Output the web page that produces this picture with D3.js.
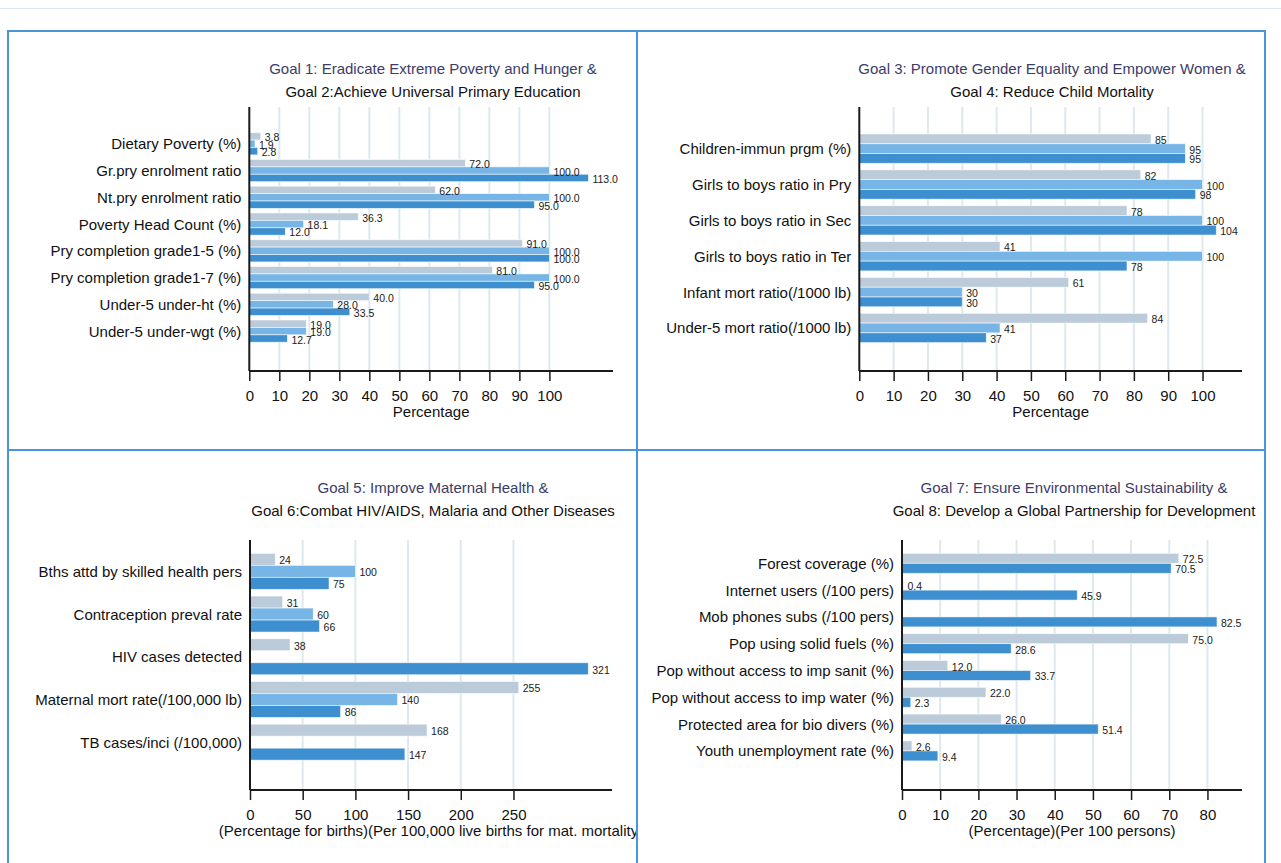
<!DOCTYPE html>
<html>
<head>
<meta charset="utf-8">
<script src="https://cdn.jsdelivr.net/npm/d3@7"></script>
<style>
  html, body { margin: 0; padding: 0; background: #fff; }
  svg { display: block; font-family: "Liberation Sans", Arial, Helvetica, sans-serif; }
</style>
</head>
<body>
<svg id="chart" width="1281" height="863"></svg>
<script>
// ---------- Goals 1 & 2 ----------
const povertyEduCategories = [
  "Dietary Poverty (%)", "Gr.pry enrolment ratio", "Nt.pry enrolment ratio",
  "Poverty Head Count (%)", "Pry completion grade1-5 (%)", "Pry completion grade1-7 (%)",
  "Under-5 under-ht (%)", "Under-5 under-wgt (%)"
];
const povertyEduBaseline = [3.8, 72.0, 62.0, 36.3, 91.0, 81.0, 40.0, 19.0];
const povertyEduTarget   = [1.9, 100.0, 100.0, 18.1, 100.0, 100.0, 28.0, 19.0];
const povertyEduCurrent  = [2.8, 113.0, 95.0, 12.0, 100.0, 95.0, 33.5, 12.7];
const povertyEduTicks = [0, 10, 20, 30, 40, 50, 60, 70, 80, 90, 100];

// ---------- Goals 3 & 4 ----------
const genderChildCategories = [
  "Children-immun prgm (%)", "Girls to boys ratio in Pry", "Girls to boys ratio in Sec",
  "Girls to boys ratio in Ter", "Infant mort ratio(/1000 lb)", "Under-5 mort ratio(/1000 lb)"
];
const genderChildBaseline = [85, 82, 78, 41, 61, 84];
const genderChildTarget   = [95, 100, 100, 100, 30, 41];
const genderChildCurrent  = [95, 98, 104, 78, 30, 37];
const genderChildTicks = [0, 10, 20, 30, 40, 50, 60, 70, 80, 90, 100];

// ---------- Goals 5 & 6 ----------
const healthCategories = [
  "Bths attd by skilled health pers", "Contraception preval rate", "HIV cases detected",
  "Maternal mort rate(/100,000 lb)", "TB cases/inci (/100,000)"
];
const healthBaseline = [24, 31, 38, 255, 168];
const healthTarget   = [100, 60, null, 140, null];
const healthCurrent  = [75, 66, 321, 86, 147];
const healthTicks = [0, 50, 100, 150, 200, 250];

// ---------- Goals 7 & 8 ----------
const environmentCategories = [
  "Forest coverage (%)", "Internet users (/100 pers)", "Mob phones subs (/100 pers)",
  "Pop using solid fuels (%)", "Pop without access to imp sanit (%)",
  "Pop without access to imp water (%)", "Protected area for bio divers (%)",
  "Youth unemployment rate (%)"
];
const environmentBaseline = [72.5, 0.4, null, 75.0, 12.0, 22.0, 26.0, 2.6];
const environmentCurrent  = [70.5, 45.9, 82.5, 28.6, 33.7, 2.3, 51.4, 9.4];
const environmentTicks = [0, 10, 20, 30, 40, 50, 60, 70, 80];

// ---------- styling ----------
const COLOR_BASELINE = "#bccbd9";
const COLOR_TARGET   = "#76b5e5";
const COLOR_CURRENT  = "#3d8fd0";
const GRID_COLOR     = "#dde9ed";
const BORDER_COLOR   = "#4a97d7";
const TITLE1_COLOR   = "#3c3c68";

const svg = d3.select("#chart");

// thin rule along the top of the page
svg.append("line")
  .attr("x1", 0).attr("x2", 1281).attr("y1", 8.5).attr("y2", 8.5)
  .attr("stroke", "#dce8ee").attr("stroke-width", 1);

const panels = [
  {
    id: "p12", box: [8, 31, 629, 419],
    titles: ["Goal 1: Eradicate Extreme Poverty and Hunger &", "Goal 2:Achieve Universal Primary Education"],
    titleX: 433, titleY: [74, 97],
    categories: povertyEduCategories,
    series: [
      { key: "baseline", values: povertyEduBaseline, color: COLOR_BASELINE },
      { key: "target",   values: povertyEduTarget,   color: COLOR_TARGET },
      { key: "current",  values: povertyEduCurrent,  color: COLOR_CURRENT }
    ],
    ticks: povertyEduTicks, fmt: d3.format(".1f"),
    xLeft: 249.3, xRight: 613, xMax: 121.2,
    axisTop: 107, axisY: 371,
    bandStart: 130.4, bandEnd: 344.5, padInner: 0.17,
    axisTitle: "Percentage"
  },
  {
    id: "p34", box: [637, 31, 628, 419],
    titles: ["Goal 3: Promote Gender Equality and Empower Women &", "Goal 4: Reduce Child Mortality"],
    titleX: 1052, titleY: [74, 97],
    categories: genderChildCategories,
    series: [
      { key: "baseline", values: genderChildBaseline, color: COLOR_BASELINE },
      { key: "target",   values: genderChildTarget,   color: COLOR_TARGET },
      { key: "current",  values: genderChildCurrent,  color: COLOR_CURRENT }
    ],
    ticks: genderChildTicks, fmt: d3.format("d"),
    xLeft: 859.3, xRight: 1242, xMax: 111.5,
    axisTop: 107, axisY: 371,
    bandStart: 130.7, bandEnd: 345.9, padInner: 0.183,
    axisTitle: "Percentage"
  },
  {
    id: "p56", box: [8, 450, 629, 420],
    titles: ["Goal 5: Improve Maternal Health &", "Goal 6:Combat HIV/AIDS, Malaria and Other Diseases"],
    titleX: 433, titleY: [493, 516],
    categories: healthCategories,
    series: [
      { key: "baseline", values: healthBaseline, color: COLOR_BASELINE },
      { key: "target",   values: healthTarget,   color: COLOR_TARGET },
      { key: "current",  values: healthCurrent,  color: COLOR_CURRENT }
    ],
    ticks: healthTicks, fmt: d3.format("d"),
    xLeft: 250, xRight: 612, xMax: 343.5,
    axisTop: 540, axisY: 790,
    bandStart: 550, bandEnd: 763.5, padInner: 0.157,
    axisTitle: "(Percentage for births)(Per 100,000 live births for mat. mortality)"
  },
  {
    id: "p78", box: [637, 450, 628, 420],
    titles: ["Goal 7: Ensure Environmental Sustainability &", "Goal 8: Develop a Global Partnership for Development"],
    titleX: 1074, titleY: [493, 516],
    categories: environmentCategories,
    series: [
      { key: "baseline", values: environmentBaseline, color: COLOR_BASELINE },
      { key: "current",  values: environmentCurrent,  color: COLOR_CURRENT }
    ],
    ticks: environmentTicks, fmt: d3.format(".1f"),
    xLeft: 902, xRight: 1242, xMax: 89.05,
    axisTop: 540, axisY: 790,
    bandStart: 549.9, bandEnd: 764.3, padInner: 0.254,
    axisTitle: "(Percentage)(Per 100 persons)"
  }
];

const defs = svg.append("defs");

panels.forEach(p => {
  const [bx, by, bw, bh] = p.box;
  defs.append("clipPath").attr("id", "clip-" + p.id)
    .append("rect").attr("x", bx).attr("y", by).attr("width", bw).attr("height", bh);

  const g = svg.append("g").attr("clip-path", `url(#clip-${p.id})`);

  const x = d3.scaleLinear().domain([0, p.xMax]).range([p.xLeft, p.xRight]);
  const y = d3.scaleBand().domain(p.categories)
    .range([p.bandStart, p.bandEnd])
    .paddingInner(p.padInner).paddingOuter(p.padInner / 2);
  const ySub = d3.scaleBand().domain(p.series.map(s => s.key)).range([0, y.bandwidth()]);

  // titles
  p.titles.forEach((t, i) => {
    g.append("text")
      .attr("x", p.titleX).attr("y", p.titleY[i])
      .attr("text-anchor", "middle")
      .attr("font-size", 15)
      .attr("fill", i === 0 ? TITLE1_COLOR : "#111")
      .text(t);
  });

  // vertical gridlines
  g.append("g").selectAll("line")
    .data(p.ticks.filter(t => t > 0))
    .join("line")
    .attr("x1", d => x(d)).attr("x2", d => x(d))
    .attr("y1", p.axisTop).attr("y2", p.axisY)
    .attr("stroke", GRID_COLOR).attr("stroke-width", 2);

  // bars
  const rows = [];
  p.categories.forEach((c, i) => {
    p.series.forEach(s => {
      const v = s.values[i];
      if (v !== null && v !== undefined) rows.push({ cat: c, key: s.key, value: v, color: s.color });
    });
  });

  g.append("g").selectAll("rect")
    .data(rows)
    .join("rect")
    .attr("x", x(0))
    .attr("y", d => y(d.cat) + ySub(d.key))
    .attr("width", d => Math.max(0.8, x(d.value) - x(0)))
    .attr("height", ySub.bandwidth())
    .attr("fill", d => d.color)
    .attr("stroke", "#ffffff").attr("stroke-width", 0.8).attr("stroke-opacity", 0.7);

  // value labels
  g.append("g").selectAll("text")
    .data(rows)
    .join("text")
    .attr("x", d => x(d.value) + 4)
    .attr("y", d => y(d.cat) + ySub(d.key) + ySub.bandwidth() / 2 + 1)
    .attr("dominant-baseline", "central")
    .attr("font-size", 10.5)
    .attr("fill", "#1a1a1a")
    .text(d => p.fmt(d.value));

  // category labels
  g.append("g").selectAll("text")
    .data(p.categories)
    .join("text")
    .attr("x", p.xLeft - 8)
    .attr("y", d => y(d) + y.bandwidth() / 2)
    .attr("text-anchor", "end")
    .attr("dominant-baseline", "central")
    .attr("font-size", 15)
    .attr("fill", "#111")
    .text(d => d);

  // y axis line
  g.append("line")
    .attr("x1", p.xLeft).attr("x2", p.xLeft)
    .attr("y1", p.axisTop).attr("y2", p.axisY)
    .attr("stroke", "#1a1a1a").attr("stroke-width", 2);

  // x axis
  const xAxis = d3.axisBottom(x).tickValues(p.ticks).tickSize(10).tickSizeOuter(0).tickPadding(9);
  const ax = g.append("g").attr("transform", `translate(0,${p.axisY})`).call(xAxis);
  ax.select(".domain").attr("stroke", "#1a1a1a").attr("stroke-width", 2)
    .attr("d", `M${p.xLeft},0H${p.xRight}`);
  ax.selectAll(".tick line").attr("stroke", "#1a1a1a").attr("stroke-width", 1.5);
  ax.selectAll(".tick text").attr("font-size", 15).attr("fill", "#111")
    .attr("font-family", "'Liberation Sans', Arial, Helvetica, sans-serif");

  // axis title
  g.append("text")
    .attr("x", (p.xLeft + p.xRight) / 2)
    .attr("y", p.axisY + 45.5)
    .attr("text-anchor", "middle")
    .attr("font-size", 15)
    .attr("fill", "#111")
    .text(p.axisTitle);

  // panel frame
  svg.append("rect")
    .attr("x", bx).attr("y", by).attr("width", bw).attr("height", bh)
    .attr("fill", "none").attr("stroke", BORDER_COLOR).attr("stroke-width", 2);
});
</script>
</body>
</html>
